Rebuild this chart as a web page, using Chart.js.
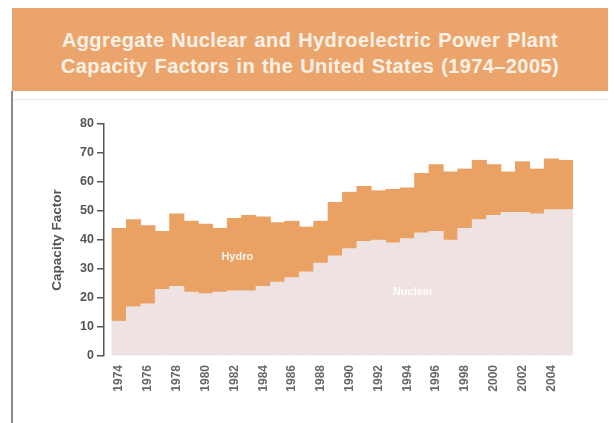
<!DOCTYPE html>
<html>
<head>
<meta charset="utf-8">
<script src="https://cdn.jsdelivr.net/npm/chart.js@4"></script>
<style>
  html, body { margin: 0; padding: 0; background: #fff; }
  body { width: 614px; height: 423px; position: relative; overflow: hidden; }
  .header {
    position: absolute; left: 12px; top: 8px; width: 596px; height: 83px;
    background: #eba56c;
    color: #fbf1e6;
    font-family: "Liberation Sans", Arial, sans-serif;
    font-weight: bold; font-size: 20px; line-height: 26px;
    letter-spacing: 0.4px; word-spacing: 1px;
    text-align: center;
    box-sizing: border-box; padding-top: 19px;
  }
  .frame-line { position: absolute; left: 11px; top: 91px; width: 2px; height: 332px; background: #8a8a8a; }
  .frame-top { position: absolute; left: 13px; top: 99px; width: 595px; height: 1px; background: #f3e6dc; }
  canvas { position: absolute; left: 0; top: 0; }
</style>
</head>
<body>
<div class="header">Aggregate Nuclear and Hydroelectric Power Plant<br>Capacity Factors in the United States (1974&#8211;2005)</div>
<div class="frame-line"></div>
<div class="frame-top"></div>
<canvas id="chart" width="614" height="423"></canvas>
<script>
const years = [1974, 1975, 1976, 1977, 1978, 1979, 1980, 1981, 1982, 1983, 1984, 1985, 1986, 1987, 1988, 1989,
  1990, 1991, 1992, 1993, 1994, 1995, 1996, 1997, 1998, 1999, 2000, 2001, 2002, 2003, 2004, 2005];
const nuclear = [12, 17, 18, 23, 24, 22, 21.5, 22, 22.5, 22.5, 24, 25.5, 27, 29, 32, 34.5,
  37, 39.5, 40, 39, 40.5, 42.5, 43, 40, 44, 47, 48.5, 49.5, 49.5, 49, 50.5, 50.5];
const hydro = [32, 30, 27, 20, 25, 24.5, 24, 22, 25, 26, 24, 20.5, 19.5, 15.5, 14.5, 18.5,
  19.5, 19, 17, 18.5, 17.5, 20.5, 23, 23.5, 20.5, 20.5, 17.5, 14, 17.5, 15.5, 17.5, 17];
const yTicks = [0, 10, 20, 30, 40, 50, 60, 70, 80];
const yearLabels = [1974, 1976, 1978, 1980, 1982, 1984, 1986, 1988, 1990, 1992, 1994, 1996, 1998, 2000, 2002, 2004];

const fontFamily = '"Liberation Sans", Arial, sans-serif';
const axisColor = '#555555';

// area names written inside the stacked bands
const bandLabels = {
  id: 'bandLabels',
  afterDatasetsDraw(chart) {
    const { ctx, scales } = chart;
    ctx.save();
    ctx.font = 'bold 11px ' + fontFamily;
    ctx.textAlign = 'center';
    ctx.textBaseline = 'middle';
    ctx.fillStyle = 'rgba(255,250,245,0.95)';
    ctx.fillText('Hydro', scales.x.getPixelForValue(1982.2), scales.y.getPixelForValue(34));
    ctx.fillStyle = 'rgba(255,255,255,0.9)';
    ctx.fillText('Nuclear', scales.x.getPixelForValue(1994.4), scales.y.getPixelForValue(22));
    ctx.restore();
  }
};

new Chart(document.getElementById('chart'), {
  type: 'bar',
  data: {
    datasets: [
      {
        label: 'Nuclear',
        data: years.map((y, i) => ({ x: y, y: nuclear[i] })),
        backgroundColor: '#eee3e2',
        borderWidth: 0,
        barPercentage: 1,
        categoryPercentage: 1
      },
      {
        label: 'Hydro',
        data: years.map((y, i) => ({ x: y, y: hydro[i] })),
        backgroundColor: '#e9a263',
        borderWidth: 0,
        barPercentage: 1,
        categoryPercentage: 1
      }
    ]
  },
  plugins: [bandLabels],
  options: {
    responsive: false,
    animation: false,
    layout: { padding: { left: 49, right: 41, top: 124, bottom: 0 } },
    plugins: { legend: { display: false }, tooltip: { enabled: false } },
    scales: {
      x: {
        type: 'linear',
        stacked: true,
        min: 1972.95,
        max: 2005.5,
        offset: false,
        grid: { display: false, drawTicks: false },
        border: { display: false },
        afterBuildTicks: (s) => { s.ticks = yearLabels.map(v => ({ value: v })); },
        afterFit: (s) => { s.height = 67; },
        ticks: {
          autoSkip: false,
          maxRotation: 90,
          minRotation: 90,
          padding: 9,
          color: '#686868',
          font: { family: fontFamily, weight: 'bold', size: 12 },
          callback: (v) => String(v)
        }
      },
      y: {
        stacked: true,
        min: 0,
        max: 80,
        afterBuildTicks: (s) => { s.ticks = yTicks.map(v => ({ value: v })); },
        afterFit: (s) => { s.width = 104 - 49; },
        grid: { drawOnChartArea: false, drawTicks: true, tickLength: 7, color: axisColor, lineWidth: 1.5 },
        border: { display: true, color: axisColor, width: 1.5 },
        ticks: { padding: 3, color: axisColor, font: { family: fontFamily, weight: 'bold', size: 12.5 } },
        title: {
          display: true,
          text: 'Capacity Factor',
          color: axisColor,
          font: { family: fontFamily, weight: 'bold', size: 13.5 },
          padding: { top: 0, bottom: 2 }
        }
      }
    }
  }
});
</script>
</body>
</html>
